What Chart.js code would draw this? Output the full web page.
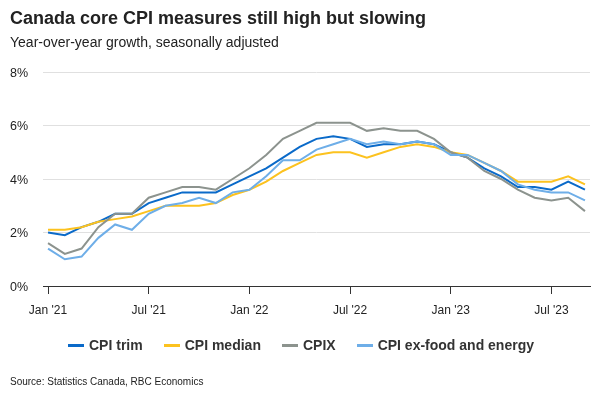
<!DOCTYPE html>
<html>
<head>
<meta charset="utf-8">
<script src="https://cdn.jsdelivr.net/npm/chart.js@4"></script>
<style>
    body { margin: 0; background: #fff; font-family: "Liberation Sans", Arial, sans-serif; color: #222; }
    #wrap { position: relative; width: 600px; height: 400px; overflow: hidden; }
    #chart { position: absolute; left: 0; top: 0; }
    .txt { position: absolute; left: 10px; white-space: nowrap; }
    #title { top: 9px; font-size: 18px; line-height: 18px; font-weight: bold; }
    #subtitle { top: 35px; font-size: 14px; line-height: 14px; }
    #source { top: 377px; font-size: 10px; line-height: 10px; }
    #legend { position: absolute; top: 338px; left: 0; width: 602px; display: flex; justify-content: center;
              font-size: 14px; line-height: 14px; font-weight: bold; color: #333; }
    .item { display: flex; align-items: center; margin: 0 10.5px; }
    .mark { width: 16px; height: 3px; margin-right: 5px; }
</style>
</head>
<body>
<div id="wrap">
    <canvas id="chart" width="600" height="400"></canvas>
    <div class="txt" id="title">Canada core CPI measures still high but slowing</div>
    <div class="txt" id="subtitle">Year-over-year growth, seasonally adjusted</div>
    <div id="legend"></div>
    <div class="txt" id="source">Source: Statistics Canada, RBC Economics</div>
</div>
<script>
const months = [
    "Jan '21", "Feb '21", "Mar '21", "Apr '21", "May '21", "Jun '21", "Jul '21", "Aug '21", "Sep '21", "Oct '21", "Nov '21", "Dec '21",
    "Jan '22", "Feb '22", "Mar '22", "Apr '22", "May '22", "Jun '22", "Jul '22", "Aug '22", "Sep '22", "Oct '22", "Nov '22", "Dec '22",
    "Jan '23", "Feb '23", "Mar '23", "Apr '23", "May '23", "Jun '23", "Jul '23", "Aug '23", "Sep '23"
]
const cpiTrim   = [2.0, 1.9, 2.2, 2.4, 2.7, 2.7, 3.1, 3.3, 3.5, 3.5, 3.5, 3.8, 4.1, 4.4, 4.8, 5.2, 5.5, 5.6, 5.5, 5.2, 5.3, 5.3, 5.4, 5.3, 5.0, 4.8, 4.4, 4.1, 3.7, 3.7, 3.6, 3.9, 3.6]
const cpiMedian = [2.1, 2.1, 2.2, 2.4, 2.5, 2.6, 2.8, 3.0, 3.0, 3.0, 3.1, 3.4, 3.6, 3.9, 4.3, 4.6, 4.9, 5.0, 5.0, 4.8, 5.0, 5.2, 5.3, 5.2, 5.0, 4.9, 4.6, 4.3, 3.9, 3.9, 3.9, 4.1, 3.8]
const cpix      = [1.6, 1.2, 1.4, 2.2, 2.7, 2.7, 3.3, 3.5, 3.7, 3.7, 3.6, 4.0, 4.4, 4.9, 5.5, 5.8, 6.1, 6.1, 6.1, 5.8, 5.9, 5.8, 5.8, 5.5, 5.0, 4.8, 4.3, 4.0, 3.6, 3.3, 3.2, 3.3, 2.8]
const cpiExFood = [1.4, 1.0, 1.1, 1.8, 2.3, 2.1, 2.7, 3.0, 3.1, 3.3, 3.1, 3.5, 3.6, 4.1, 4.7, 4.7, 5.1, 5.3, 5.5, 5.3, 5.4, 5.3, 5.4, 5.3, 4.9, 4.9, 4.6, 4.3, 3.8, 3.6, 3.5, 3.5, 3.2]
const seriesNames = ["CPI trim", "CPI median", "CPIX", "CPI ex-food and energy"]
const seriesColors = ["#0a6ac9", "#fcc21f", "#8c938e", "#6eaee8"]
const xTicks = [0, 6, 12, 18, 24, 30]
const yTicks = [0, 2, 4, 6, 8]

window.addEventListener("load", () => {
    const canvas = document.getElementById("chart")
    const values = [cpiTrim, cpiMedian, cpix, cpiExFood]

    const datasets = values.map((arr, s) => ({
        label: seriesNames[s],
        data: arr.map((v, i) => ({ x: i, y: v })),
        borderColor: seriesColors[s],
        backgroundColor: seriesColors[s],
        borderWidth: 2,
        pointRadius: 0,
        tension: 0,
        order: 3 - s,
    }))

    // html legend
    const legend = document.getElementById("legend")
    seriesNames.forEach((name, s) => {
        const item = document.createElement("div")
        item.className = "item"
        item.innerHTML = '<span class="mark" style="background:' + seriesColors[s] + '"></span>' + name
        legend.appendChild(item)
    })

    Chart.defaults.font.family = '"Liberation Sans", Arial, sans-serif'
    Chart.defaults.color = "#222"

    new Chart(canvas, {
        type: "line",
        data: { datasets },
        options: {
            responsive: false,
            animation: false,
            events: [],
            layout: { padding: { left: 10, right: 10, top: 72, bottom: 84 } },
            plugins: {
                legend: { display: false },
                tooltip: { enabled: false },
            },
            scales: {
                x: {
                    type: "linear",
                    min: -0.3,
                    max: 32.3,
                    afterBuildTicks: scale => { scale.ticks = xTicks.map(v => ({ value: v })) },
                    afterFit: scale => { scale.height = 30 },
                    border: { display: true, color: "#333", width: 1 },
                    grid: { drawOnChartArea: false, drawTicks: true, tickLength: 8, color: "#333" },
                    ticks: {
                        autoSkip: false,
                        maxRotation: 0,
                        padding: 9,
                        font: { size: 12 },
                        callback: v => months[v],
                    },
                },
                y: {
                    min: 0,
                    max: 8,
                    afterBuildTicks: scale => { scale.ticks = yTicks.map(v => ({ value: v })) },
                    afterFit: scale => { scale.width = 33 },
                    border: { display: false },
                    grid: { color: "#e0e0e0", drawTicks: false, tickLength: 0 },
                    ticks: {
                        crossAlign: "far",
                        padding: 0,
                        labelOffset: 1.5,
                        font: { size: 12.5 },
                        callback: v => v + "%",
                    },
                },
            },
        },
    })
})
</script>
</body>
</html>
